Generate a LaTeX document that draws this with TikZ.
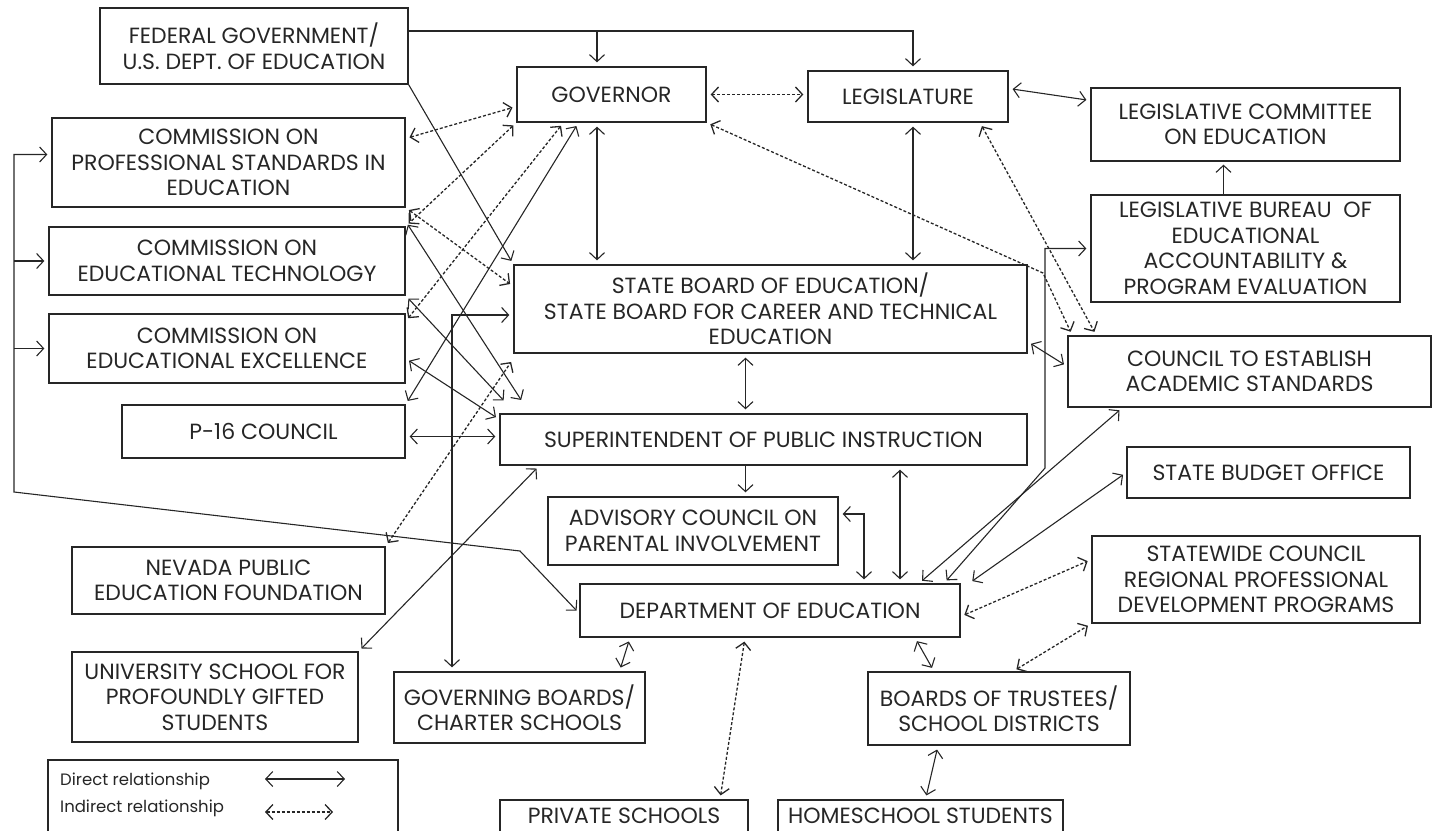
\documentclass[tikz,border=0pt]{standalone}
\usepackage{fontspec}
\newfontfamily\chartfont{Poppins}
\usetikzlibrary{arrows.meta}
\tikzset{
  box/.style={draw=black!85, line width=1.3pt, align=center, inner sep=0pt, text=black!85,
    font=\chartfont\fontsize{22}{25.5}\selectfont},
  rel/.style={line width=1.1pt, draw=black!85, shorten <=4pt, shorten >=4pt},
  dir/.style={rel, <->},
  ind/.style={rel, <->, line width=1.3pt, dash pattern=on 3pt off 2pt},
  >={Straight Barb[length=7pt,width=15pt]},
}
\begin{document}
\begin{tikzpicture}[x=1pt, y=-1pt]
	\useasboundingbox (0,0) rectangle (1432,830);
	\clip (0,0) rectangle (1432,830);
	% state level
	\node[box, minimum width=308pt, minimum height=76pt] (fed) at (254,46) {FEDERAL GOVERNMENT/\\U.S. DEPT. OF EDUCATION};
	\node[box, minimum width=189pt, minimum height=55pt] (gov) at (611.5,94.5) {GOVERNOR};
	\node[box, minimum width=200pt, minimum height=51pt] (leg) at (908,96.5) {LEGISLATURE};
	\node[box, minimum width=309pt, minimum height=73pt] (lce) at (1245.5,124.5) {LEGISLATIVE COMMITTEE\\ON EDUCATION};
	\node[box, minimum width=309pt, minimum height=107pt] (lb) at (1245.5,248.5) {LEGISLATIVE BUREAU\ \ OF\\EDUCATIONAL\\ACCOUNTABILITY \&\\PROGRAM EVALUATION};
	\node[box, minimum width=513pt, minimum height=88pt] (sbe) at (770.5,309) {STATE BOARD OF EDUCATION/\\STATE BOARD FOR CAREER AND TECHNICAL\\EDUCATION};
	\node[box, minimum width=527pt, minimum height=51pt] (sup) at (763.5,439.5) {SUPERINTENDENT OF PUBLIC INSTRUCTION};
	\node[box, minimum width=363pt, minimum height=71pt] (cas) at (1249.5,371.5) {COUNCIL TO ESTABLISH\\ACADEMIC STANDARDS};
	\node[box, minimum width=283pt, minimum height=51pt] (sbo) at (1268.5,472.5) {STATE BUDGET OFFICE};
	\node[box, minimum width=328pt, minimum height=87pt] (scr) at (1256,579.5) {STATEWIDE COUNCIL\\REGIONAL PROFESSIONAL\\DEVELOPMENT PROGRAMS};
	% commissions and councils
	\node[box, minimum width=353pt, minimum height=89pt] (cps) at (228.5,162.5) {COMMISSION ON\\PROFESSIONAL STANDARDS IN\\EDUCATION};
	\node[box, minimum width=356pt, minimum height=68pt] (cet) at (227,261) {COMMISSION ON\\EDUCATIONAL TECHNOLOGY};
	\node[box, minimum width=356pt, minimum height=69pt] (cee) at (227,348.5) {COMMISSION ON\\EDUCATIONAL EXCELLENCE};
	\node[box, minimum width=283pt, minimum height=53pt] (p16) at (263.5,431.5) {P-16 COUNCIL};
	\node[box, minimum width=313pt, minimum height=67pt] (npef) at (228.5,580.5) {NEVADA PUBLIC\\EDUCATION FOUNDATION};
	\node[box, minimum width=286pt, minimum height=90pt] (uspg) at (215,697) {UNIVERSITY SCHOOL FOR\\PROFOUNDLY GIFTED\\STUDENTS};
	% department and schools
	\node[box, minimum width=290pt, minimum height=68pt] (acpi) at (693,531) {ADVISORY COUNCIL ON\\PARENTAL INVOLVEMENT};
	\node[box, minimum width=380pt, minimum height=53pt] (doe) at (770,610.5) {DEPARTMENT OF EDUCATION};
	\node[box, minimum width=251pt, minimum height=71pt] (gbcs) at (519.5,707.5) {GOVERNING BOARDS/\\CHARTER SCHOOLS};
	\node[box, minimum width=262pt, minimum height=73pt] (bot) at (999,708.5) {BOARDS OF TRUSTEES/\\SCHOOL DISTRICTS};
	\node[box, minimum width=248pt, minimum height=32pt] (ps) at (624,816) {PRIVATE SCHOOLS};
	\node[box, minimum width=285pt, minimum height=32pt] (hs) at (920.5,816) {HOMESCHOOL STUDENTS};
	% legend
	\node[box, minimum width=350pt, minimum height=72pt] (legend) at (223,796) {};
	\node[anchor=west, inner sep=0pt, text=black!85, font=\chartfont\fontsize{16.5}{18}\selectfont] (ldir) at (60,781) {Direct relationship};
	\node[anchor=west, inner sep=0pt, text=black!85, font=\chartfont\fontsize{16.5}{18}\selectfont] (lind) at (60,808) {Indirect relationship};
	\coordinate (ldirA) at (265,779); \coordinate (ldirB) at (345,779);
	\coordinate (lindA) at (265,812); \coordinate (lindB) at (333,812);
	\draw[dir, shorten <=0pt, shorten >=0pt] (ldirA) -- (ldirB);
	\draw[ind, shorten <=0pt, shorten >=0pt] (lindA) -- (lindB);
	% bends
	\coordinate (dlcorner) at (14,492);
	\coordinate (dlbend) at (520,551);
	\coordinate (lbbend) at (1045,468);
	\coordinate (govbend) at (1043,273);
	% federal
	\draw[rel,->,shorten <=0pt] ([yshift=15pt]fed.east) -| ([xshift=5pt]leg.north);
	\draw[rel,->,shorten <=0pt] ([xshift=-14.5pt]gov.north) ++(0,-36) -- ([xshift=-14.5pt]gov.north);
	\draw[rel,->,shorten <=0pt] (fed.south east) -- (sbe.north west);
	% governor and legislature
	\draw[ind] (gov.east) -- (gov.east -| leg.west);
	\draw[dir] ([xshift=-14.5pt]gov.south) -- ([xshift=-14.5pt]gov.south |- sbe.north);
	\draw[dir] ([xshift=5pt]leg.south) -- ([xshift=5pt]leg.south |- sbe.north);
	\draw[dir] ([yshift=8pt]leg.east) -- ([yshift=24pt]lce.west);
	\draw[rel,->,shorten <=0pt,shorten >=3pt] ([xshift=-22pt]lb.north) -- ([xshift=-22pt]lb.north |- lce.south);
	\draw[ind] (gov.south east) -- (govbend) -- ([xshift=5pt]cas.north west);
	\draw[ind] ([xshift=72pt]leg.south) -- ([xshift=29pt]cas.north west);
	\draw[ind] ([yshift=24pt]cps.east) -- ([yshift=-12pt]gov.west);
	\draw[ind] (gov.south west) -- (cet.north east);
	\draw[ind] ([xshift=-48pt]gov.south) -- ([yshift=-8pt]cee.north east);
	\draw[dir] ([xshift=-33pt]gov.south) -- (p16.north east);
	% state board and superintendent
	\draw[ind] (cps.south east) -- ([yshift=-22pt]sbe.north west);
	\draw[dir] ([yshift=5pt]cet.north east) -- ([xshift=24pt,yshift=10pt]sup.north west);
	\draw[dir] (cet.south east) -- ([xshift=7pt,yshift=10pt]sup.north west);
	\draw[dir] ([yshift=-10pt]cee.east) -- ([yshift=-6pt]sup.north west);
	\draw[dir] ([yshift=-5pt]p16.east) -- ([yshift=-5pt]p16.east -| sup.west);
	\draw[ind] (npef.north east) -- ([yshift=-5pt]sbe.south west);
	\draw[dir] (uspg.north east) -- ([xshift=40pt]sup.south west);
	\draw[dir] ([yshift=-6pt]sbe.west) -| ([xshift=-67.5pt]gbcs.north);
	\draw[dir] ([yshift=12pt]sbe.south east) -- ([yshift=5pt]cas.west);
	\draw[dir] ([xshift=-25pt]sbe.south) -- ([xshift=-25pt]sbe.south |- sup.north);
	\draw[rel,->,shorten <=0pt] ([xshift=-18pt]sup.south) -- ([xshift=-18pt]sup.south |- acpi.north);
	\draw[dir] ([xshift=136.5pt]sup.south) -- ([xshift=136.5pt]sup.south |- doe.north);
	% department of education
	\draw[dir] ([yshift=17pt]acpi.east) -| ([xshift=94pt]doe.north);
	\draw[dir] ([xshift=149pt]doe.north) -- ([xshift=-127pt]cas.south);
	\draw[dir] ([xshift=174pt]doe.north) -- (lbbend) |- (lb.west);
	\draw[dir] ([xshift=199pt]doe.north) -- (sbo.west);
	\draw[ind] ([yshift=-6pt]doe.east) -- ([yshift=20pt]scr.west);
	\draw[ind] ([xshift=14pt]bot.north) -- (scr.south west);
	\draw[dir] ([yshift=-3pt]doe.west) -- (dlbend) -- (dlcorner) |- ([yshift=8pt]cps.west);
	\draw[rel,->,shorten <=0pt] (cet.west -| dlcorner) -- (cet.west);
	\draw[rel,->,shorten <=0pt] (cee.west -| dlcorner) -- (cee.west);
	\draw[dir] ([xshift=-140pt]doe.south) -- ([xshift=100pt]gbcs.north);
	\draw[ind] ([xshift=-25pt]doe.south) -- ([xshift=96pt]ps.north);
	\draw[dir] ([xshift=145pt]doe.south) -- ([xshift=-65pt]bot.north);
	\draw[dir] ([xshift=-61pt]bot.south) -- ([xshift=5pt]hs.north);
\end{tikzpicture}
\end{document}
